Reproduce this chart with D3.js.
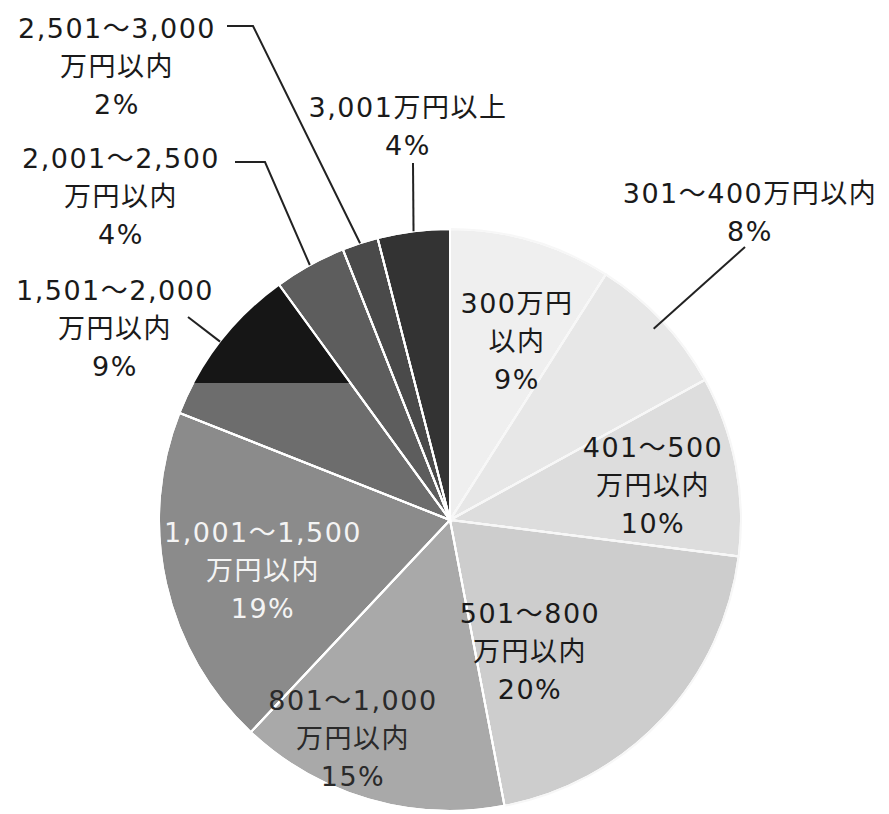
<!DOCTYPE html>
<html>
<head>
<meta charset="utf-8">
<script src="https://cdn.jsdelivr.net/npm/d3@7"></script>
<style>
  body { margin:0; background:#fff; }
  text { font-family:"DejaVu Sans","Noto Sans CJK JP",sans-serif; font-size:27px; letter-spacing:1.5px; }
</style>
</head>
<body>
<div id="chart"></div>
<script>
// 年収の分布 (%)
var categories = ["300万円以内","301～400万円以内","401～500万円以内","501～800万円以内",
                  "801～1,000万円以内","1,001～1,500万円以内","1,501～2,000万円以内",
                  "2,001～2,500万円以内","2,501～3,000万円以内","3,001万円以上"];
var values = [9, 8, 10, 20, 15, 19, 9, 4, 2, 4];
var nameLines = [["300万円","以内"],["301～400万円以内"],["401～500","万円以内"],["501～800","万円以内"],
                 ["801～1,000","万円以内"],["1,001～1,500","万円以内"],["1,501～2,000","万円以内"],
                 ["2,001～2,500","万円以内"],["2,501～3,000","万円以内"],["3,001万円以上"]];

// styles
var fills = ["#efefef","#e7e7e7","#dddddd","#cdcdcd","#a9a9a9","#8b8b8b","#6d6d6d","#5d5d5d","#4a4a4a","#333333"];
var textCol = ["#1a1a1a","#1a1a1a","#1a1a1a","#1a1a1a","#2a2a2a","#f4f4f4","#1a1a1a","#1a1a1a","#1a1a1a","#1a1a1a"];
// label position (first line centre) and leader elbows
var labelPos = [[517,303],[750,193],[653,447],[530,613],[353,700],[263,532],[115,290],[121,158],[117,28],[408,107]];
var leaders = {1:{pts:[[745,247]], r:0.96}, 6:{pts:[[188,317]], r:1}, 7:{pts:[[235,162],[265,162]], r:1},
               8:{pts:[[227,26],[253,26]], r:1}, 9:{pts:[[413,163]], r:1}};

var fullWidth = 889, fullHeight = 814;
var cx = 450, cy = 520, R = 291;
var lineH = 38;

var svg = d3.select("#chart").append("svg")
    .attr("width", fullWidth).attr("height", fullHeight);

var data = categories.map(function(c, i){ return {name:c, value:values[i], i:i}; });
var pie = d3.pie().sort(null).value(function(d){ return d.value; });
var arcs = pie(data);
var arc = d3.arc().innerRadius(0).outerRadius(R);

var g = svg.append("g").attr("transform", "translate(" + cx + "," + cy + ")");

// clip for the dark part of the 1,501～2,000 slice
svg.append("defs").append("clipPath").attr("id", "topclip")
   .append("rect").attr("x", -R).attr("y", -R).attr("width", 2*R).attr("height", R - 137);

g.selectAll("path.slice").data(arcs).enter().append("path")
  .attr("class", "slice")
  .attr("d", arc)
  .attr("fill", function(d){ return fills[d.data.i]; })
  .attr("stroke", "#fff").attr("stroke-width", 2);

g.append("path").datum(arcs[6])
  .attr("d", arc)
  .attr("fill", "#161616")
  .attr("clip-path", "url(#topclip)");

// redraw white borders on top
g.selectAll("path.edge").data(arcs).enter().append("path")
  .attr("class", "edge")
  .attr("d", arc)
  .attr("fill", "none")
  .attr("stroke", function(d){ return d.data.i < 4 ? "#f7f7f7" : "#fff"; })
  .attr("stroke-width", 2);

// leader lines
Object.keys(leaders).forEach(function(k){
  var a = arcs[+k], L = leaders[k];
  var mid = (a.startAngle + a.endAngle) / 2;
  var end = [cx + R*L.r*Math.sin(mid), cy - R*L.r*Math.cos(mid)];
  var pts = L.pts.concat([end]);
  svg.append("path")
    .attr("d", d3.line()(pts))
    .attr("fill", "none").attr("stroke", "#222").attr("stroke-width", 2);
});

// labels
arcs.forEach(function(a){
  var i = a.data.i;
  var lines = nameLines[i].concat([values[i] + "%"]);
  var t = svg.append("text")
    .attr("text-anchor", "middle")
    .attr("fill", textCol[i]);
  lines.forEach(function(s, j){
    t.append("tspan")
      .attr("x", labelPos[i][0])
      .attr("y", labelPos[i][1] + j*lineH)
      .attr("dominant-baseline", "central")
      .text(s);
  });
});
</script>
</body>
</html>
